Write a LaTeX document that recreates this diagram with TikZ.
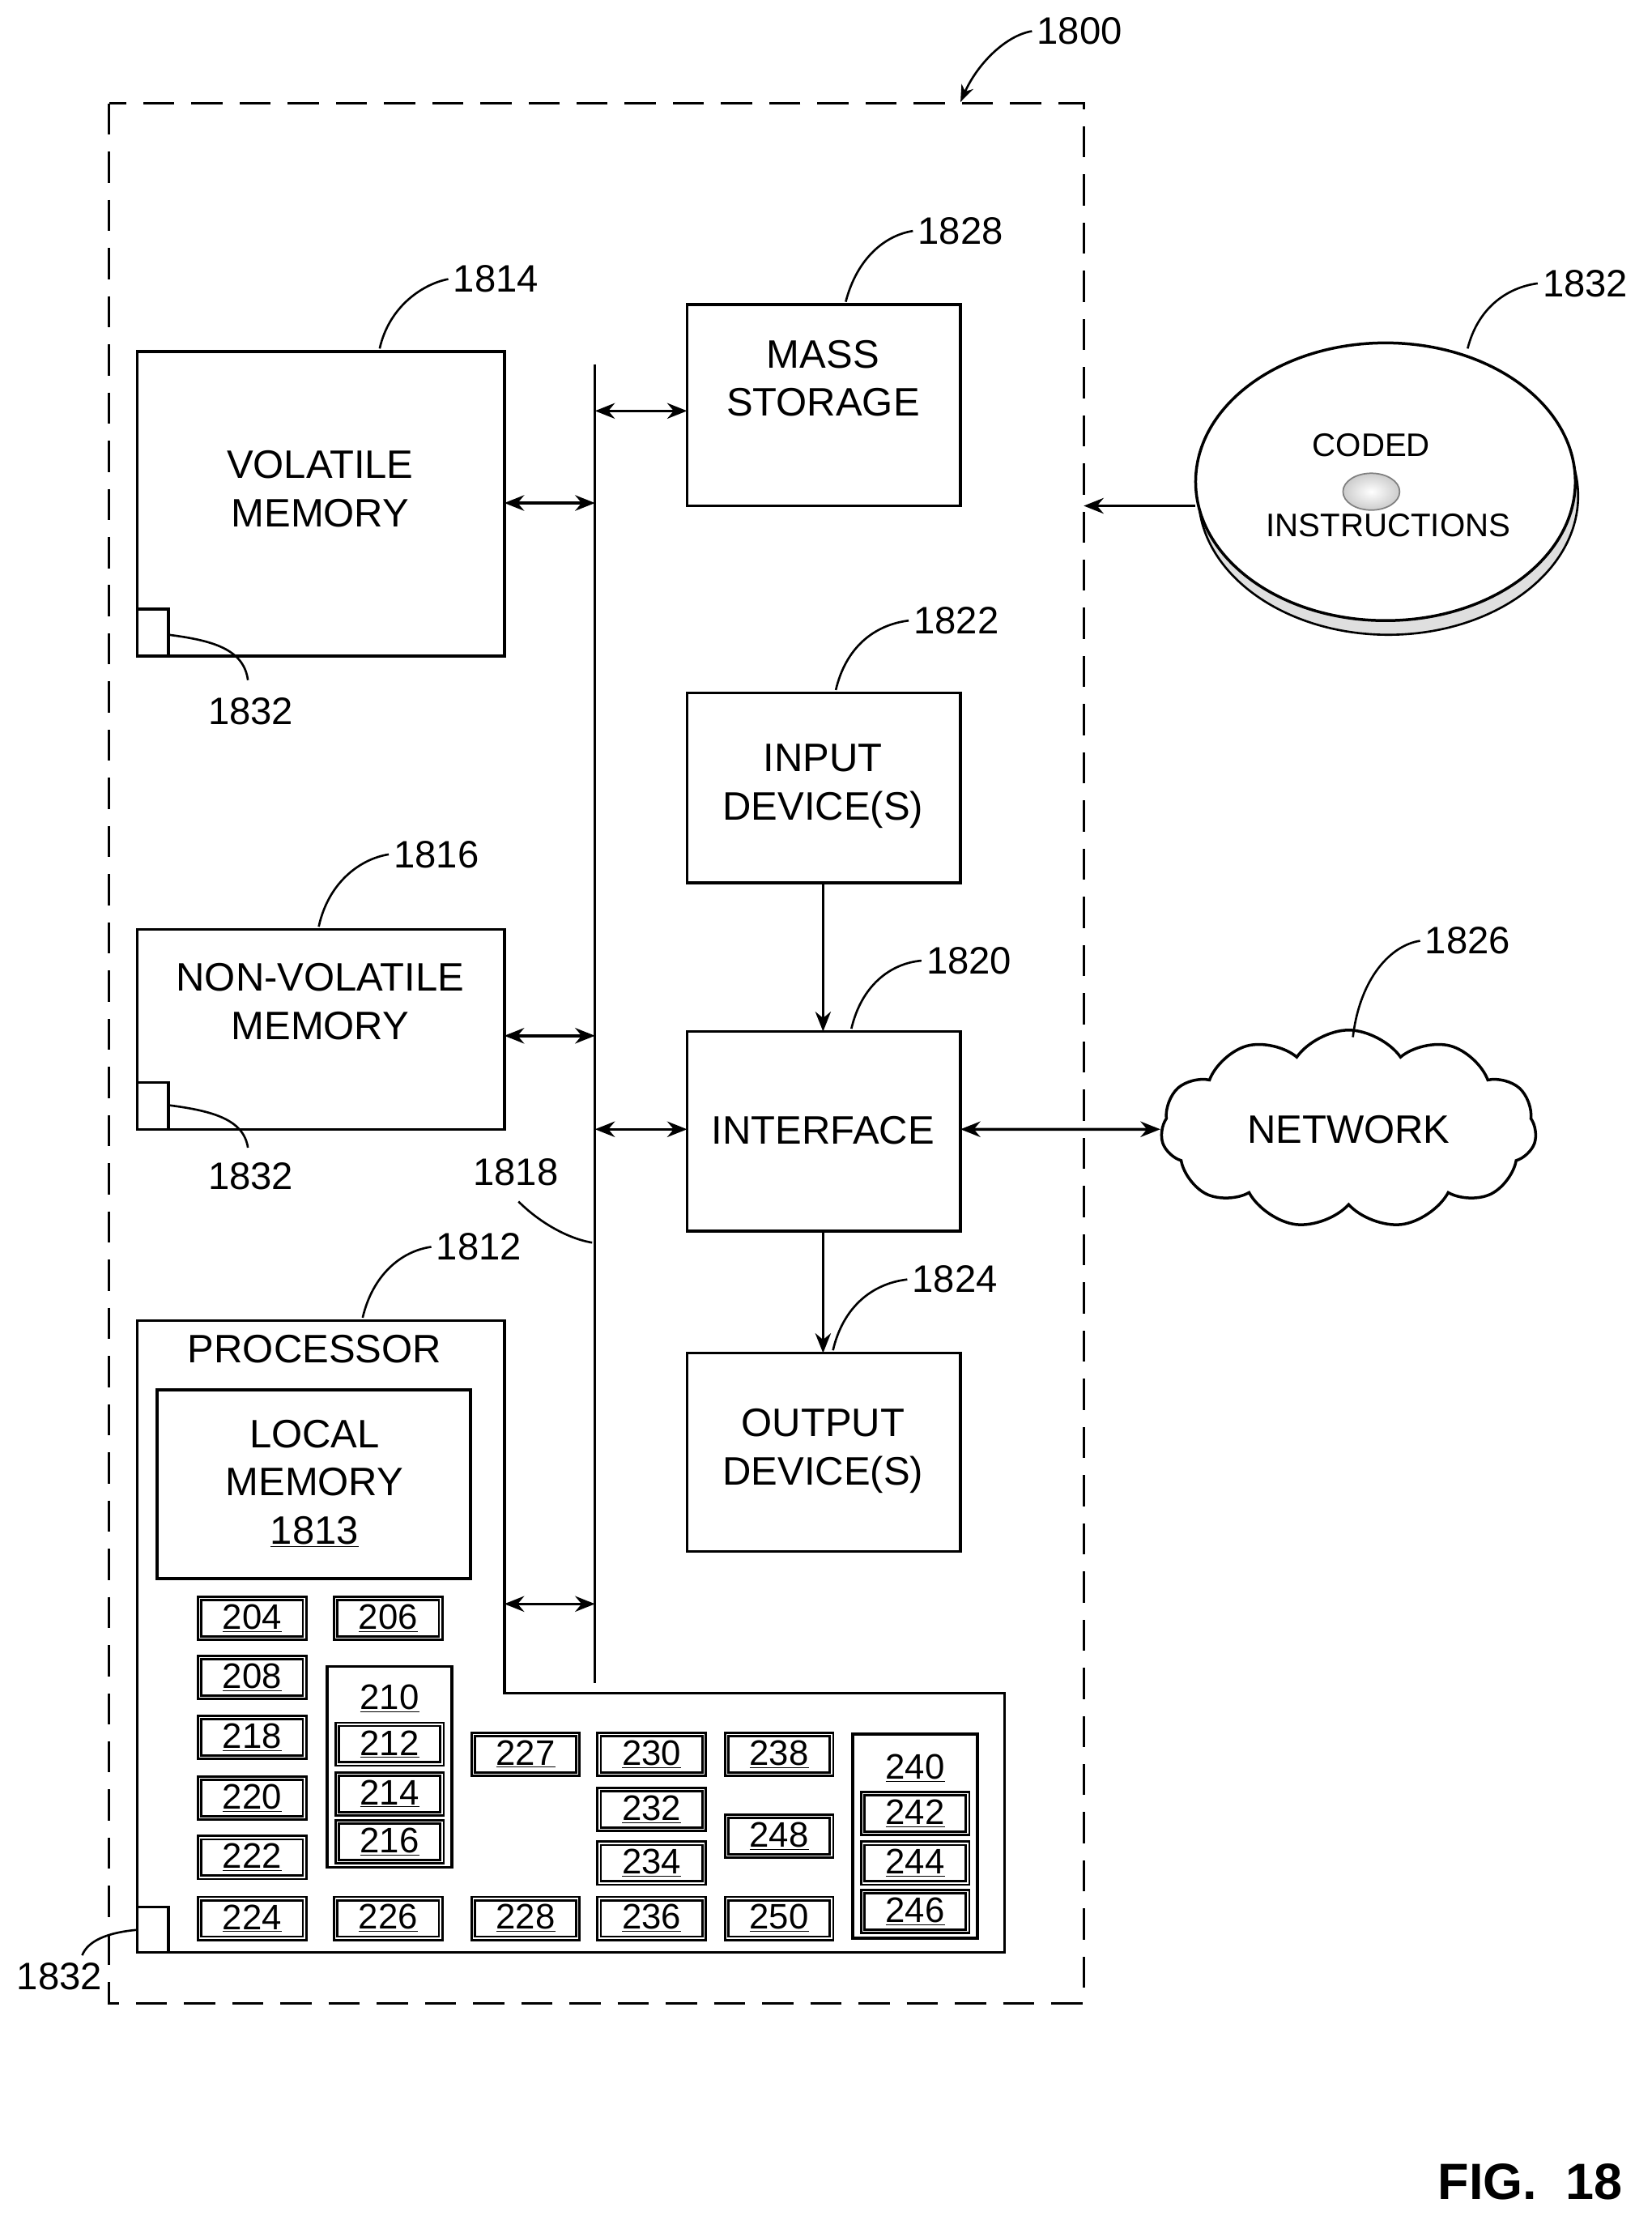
\documentclass[tikz,border=0pt]{standalone}
\usepackage{fontspec}
\setmainfont{Liberation Sans}
\usetikzlibrary{arrows.meta,shapes.symbols}
\begin{document}
\begin{tikzpicture}[x=1pt,y=-1pt,
 box/.style={draw,line width=2pt},
 lbl/.style={font=\fontsize{27}{30}\selectfont},
 txt/.style={font=\fontsize{28}{34}\selectfont,align=center},
 sb/.style={draw,line width=1.6pt,double distance=0.8pt,minimum width=74pt,minimum height=28pt,inner sep=0pt,font=\fontsize{25}{26}\selectfont},
 ar/.style={line width=2pt,{Stealth[length=14pt,width=11pt]}-{Stealth[length=14pt,width=11pt]}},
 a1/.style={line width=2pt,-{Stealth[length=14pt,width=11pt]}},
 ld/.style={line width=1.5pt}]
\useasboundingbox (0,0) rectangle (1166,1564);
% frame
\draw[line width=2pt,dash pattern=on 22pt off 12pt] (77,73) rectangle (765,1414);
\node[lbl] (l1800) at (762,22) {1800};
\draw[ld,-{Stealth[length=12pt,width=9pt]}] (l1800.west) .. controls (710,25) and (690,45) .. (678,72);
% bus
\coordinate (bt) at (420,257); \coordinate (bb) at (420,1188);
\draw[line width=2pt] (bt) -- (bb);
% volatile
\draw[box] (97,248) rectangle (356,463);
\node[txt] (vm) at (226,345) {VOLATILE\\MEMORY};
\draw[box] (97,430) rectangle (119,463);
\node[lbl] (v1832) at (177,502) {1832};
\draw[ld] (119,448) .. controls (150,452) and (172,458) .. (175,480);
\node[lbl] (l1814) at (350,197) {1814};
\draw[ld] (268,246) .. controls (275,215) and (300,200) .. (l1814.west);
\draw[ar] (356,355) -- (420,355);
% nonvolatile
\draw[box] (97,656) rectangle (356,797);
\node[txt] at (226,707) {NON-VOLATILE\\MEMORY};
\draw[box] (97,764) rectangle (119,797);
\node[lbl] at (177,830) {1832};
\draw[ld] (119,780) .. controls (150,784) and (172,790) .. (175,810);
\node[lbl] (l1816) at (308,603) {1816};
\draw[ld] (225,654) .. controls (232,622) and (255,606) .. (l1816.west);
\draw[ar] (356,731) -- (420,731);
% mass storage
\draw[box] (485,215) rectangle (678,357);
\node[txt] at (581,267) {MASS\\STORAGE};
\node[lbl] (l1828) at (678,163) {1828};
\draw[ld] (597,213) .. controls (605,182) and (625,166) .. (l1828.west);
\draw[ar] (420,290) -- (485,290);
% input
\draw[box] (485,489) rectangle (678,623);
\node[txt] at (581,555) {INPUT\\DEVICE(S)};
\node[lbl] (l1822) at (675,438) {1822};
\draw[ld] (590,487) .. controls (597,457) and (617,441) .. (l1822.west);
% interface
\draw[box] (485,728) rectangle (678,869);
\node[txt] at (581,798) {INTERFACE};
\node[lbl] (l1820) at (684,678) {1820};
\draw[ld] (601,726) .. controls (608,696) and (628,680) .. (l1820.west);
\draw[a1] (581,623) -- (581,728);
\draw[ar] (420,797) -- (485,797);
% output
\draw[box] (485,955) rectangle (678,1095);
\node[txt] at (581,1024) {OUTPUT\\DEVICE(S)};
\node[lbl] (l1824) at (674,903) {1824};
\draw[ld] (588,953) .. controls (595,923) and (615,906) .. (l1824.west);
\draw[a1] (581,869) -- (581,955);
% bus label
\node[lbl] (l1818) at (364,827) {1818};
\draw[ld] (366,848) .. controls (380,862) and (400,874) .. (418,877);
% network
\node[cloud,draw,line width=2pt,cloud puffs=11,cloud puff arc=110,aspect=2,minimum width=265pt,minimum height=140pt,txt] (net) at (952,797) {NETWORK};
\draw[ar] (678,797) -- (net.west);
\node[lbl] (l1826) at (1036,664) {1826};
\draw[ld] (955,732) .. controls (960,690) and (982,667) .. (l1826.west);
% disk
\fill[gray!25] (980,350) ellipse [x radius=134,y radius=98];
\draw[line width=1.5pt] (980,350) ellipse [x radius=134,y radius=98];
\draw[line width=2pt,fill=white] (978,340) ellipse [x radius=134,y radius=98];
\shade[inner color=white,outer color=gray!40,draw=gray,line width=1pt] (968,347) ellipse [x radius=20,y radius=13];
\node[font=\fontsize{23}{26}\selectfont] at (968,314) {CODED};
\node[font=\fontsize{23}{26}\selectfont] at (980,371) {INSTRUCTIONS};
\draw[a1] (844,357) -- (765,357);
\node[lbl] (l1832) at (1119,200) {1832};
\draw[ld] (1036,246) .. controls (1043,218) and (1063,203) .. (l1832.west);
% processor
\draw[box] (97,932) -- (356,932) -- (356,1195) -- (709,1195) -- (709,1378) -- (97,1378) -- cycle;
\node[txt] at (222,952) {PROCESSOR};
\node[lbl] (l1812) at (338,880) {1812};
\draw[ld] (256,930) .. controls (263,900) and (283,883) .. (l1812.west);
\draw[box] (111,981) rectangle (332,1114);
\node[txt] at (222,1047) {LOCAL\\MEMORY\\\underline{1813}};
\draw[ar] (356,1132) -- (420,1132);
\draw[box] (97,1346) rectangle (119,1378);
\node[lbl] (p1832) at (42,1395) {1832};
\draw[ld] (97,1362) .. controls (75,1364) and (62,1370) .. (58,1380);
% small boxes
\foreach \n/\x/\y in {204/178/1142,206/274/1142,208/178/1184,218/178/1226,220/178/1269,222/178/1311,224/178/1354,226/274/1354,
 227/371/1238,228/371/1354,230/460/1238,232/460/1277,234/460/1315,236/460/1354,238/550/1238,248/550/1296,250/550/1354,
 212/275/1231,214/275/1266,216/275/1300,242/646/1280,244/646/1315,246/646/1349}
 {\node[sb] (b\n) at (\x,\y) {\underline{\n}};}
\draw[box] (231,1176) rectangle (319,1318);
\node[font=\fontsize{25}{26}\selectfont] at (275,1199) {\underline{210}};
\draw[box] (602,1224) rectangle (690,1368);
\node[font=\fontsize{25}{26}\selectfont] at (646,1248) {\underline{240}};
% fig
\node[font=\bfseries\fontsize{36}{40}\selectfont] at (1080,1540) {FIG.~~18};
\end{tikzpicture}
\end{document}
